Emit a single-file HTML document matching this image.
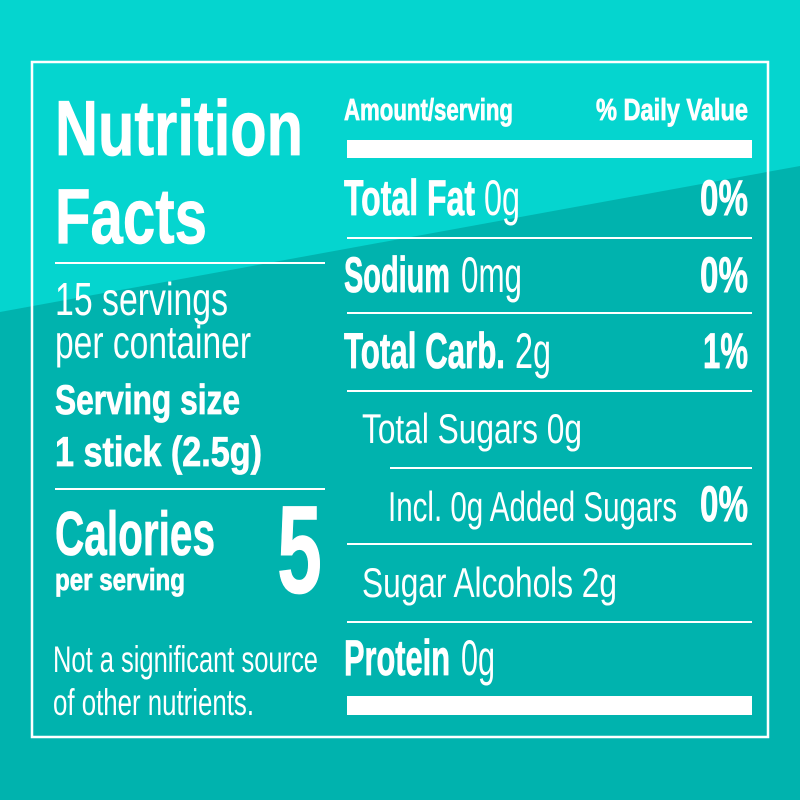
<!DOCTYPE html>
<html><head><meta charset="utf-8"><style>
html,body{margin:0;padding:0;width:800px;height:800px;overflow:hidden}
svg{display:block}
text{font-family:"Liberation Sans",sans-serif;fill:#fff}
.b{font-weight:bold;stroke:#fff;stroke-width:0.8}
</style></head><body>
<svg width="800" height="800" viewBox="0 0 800 800">
<rect width="800" height="800" fill="#00b3ae"/>
<polygon points="0,0 800,0 800,166 0,312" fill="#05d5cf"/>
<rect x="32" y="62" width="736" height="675" fill="none" stroke="#fff" stroke-width="2.5"/>
<g>
<text class="b" x="55" y="155" font-size="78" textLength="248" lengthAdjust="spacingAndGlyphs">Nutrition</text>
<text class="b" x="55" y="243" font-size="78" textLength="152" lengthAdjust="spacingAndGlyphs">Facts</text>
<rect x="55" y="262" width="270" height="2" fill="#fff"/>
<text x="55" y="315" font-size="46" textLength="173" lengthAdjust="spacingAndGlyphs">15 servings</text>
<text x="55" y="358" font-size="46" textLength="196" lengthAdjust="spacingAndGlyphs">per container</text>
<text class="b" x="55" y="414" font-size="42" textLength="185" lengthAdjust="spacingAndGlyphs">Serving size</text>
<text class="b" x="55" y="466" font-size="42" textLength="207" lengthAdjust="spacingAndGlyphs">1 stick (2.5g)</text>
<rect x="55" y="488" width="270" height="2" fill="#fff"/>
<text class="b" x="55" y="555" font-size="62" textLength="160" lengthAdjust="spacingAndGlyphs">Calories</text>
<text class="b" x="55" y="590" font-size="31" textLength="130" lengthAdjust="spacingAndGlyphs">per serving</text>
<text class="b" x="277" y="593" font-size="125" textLength="45" lengthAdjust="spacingAndGlyphs">5</text>
<text x="53" y="672" font-size="37" textLength="265" lengthAdjust="spacingAndGlyphs">Not a significant source</text>
<text x="53" y="715" font-size="37" textLength="201" lengthAdjust="spacingAndGlyphs">of other nutrients.</text>

<text class="b" x="344" y="120" font-size="31" textLength="169" lengthAdjust="spacingAndGlyphs">Amount/serving</text>
<text class="b" x="596" y="120" font-size="31" textLength="152" lengthAdjust="spacingAndGlyphs">% Daily Value</text>
<rect x="347" y="140" width="405" height="18" fill="#fff"/>

<text class="b" x="344" y="215" font-size="50" textLength="131" lengthAdjust="spacingAndGlyphs">Total Fat</text>
<text x="484" y="215" font-size="50" textLength="36" lengthAdjust="spacingAndGlyphs">0g</text>
<text class="b" x="700" y="215" font-size="50" textLength="48" lengthAdjust="spacingAndGlyphs">0%</text>
<rect x="347" y="237" width="405" height="2" fill="#fff"/>

<text class="b" x="344" y="292" font-size="50" textLength="106" lengthAdjust="spacingAndGlyphs">Sodium</text>
<text x="461" y="292" font-size="50" textLength="61" lengthAdjust="spacingAndGlyphs">0mg</text>
<text class="b" x="700" y="292" font-size="50" textLength="48" lengthAdjust="spacingAndGlyphs">0%</text>
<rect x="347" y="312" width="405" height="2" fill="#fff"/>

<text class="b" x="344" y="368" font-size="50" textLength="161" lengthAdjust="spacingAndGlyphs">Total Carb.</text>
<text x="515" y="368" font-size="50" textLength="36" lengthAdjust="spacingAndGlyphs">2g</text>
<text class="b" x="703" y="368" font-size="50" textLength="45" lengthAdjust="spacingAndGlyphs">1%</text>
<rect x="347" y="390" width="405" height="2" fill="#fff"/>

<text x="362" y="443" font-size="42" textLength="220" lengthAdjust="spacingAndGlyphs">Total Sugars 0g</text>
<rect x="390" y="467" width="362" height="2" fill="#fff"/>

<text x="388" y="521" font-size="42" textLength="289" lengthAdjust="spacingAndGlyphs">Incl. 0g Added Sugars</text>
<text class="b" x="700" y="521" font-size="50" textLength="48" lengthAdjust="spacingAndGlyphs">0%</text>
<rect x="347" y="543" width="405" height="2" fill="#fff"/>

<text x="362" y="597" font-size="42" textLength="255" lengthAdjust="spacingAndGlyphs">Sugar Alcohols 2g</text>
<rect x="347" y="621" width="405" height="2" fill="#fff"/>

<text class="b" x="344" y="675" font-size="50" textLength="106" lengthAdjust="spacingAndGlyphs">Protein</text>
<text x="461" y="675" font-size="50" textLength="34" lengthAdjust="spacingAndGlyphs">0g</text>
<rect x="347" y="696" width="405" height="19" fill="#fff"/>
</g>
</svg>
</body></html>
